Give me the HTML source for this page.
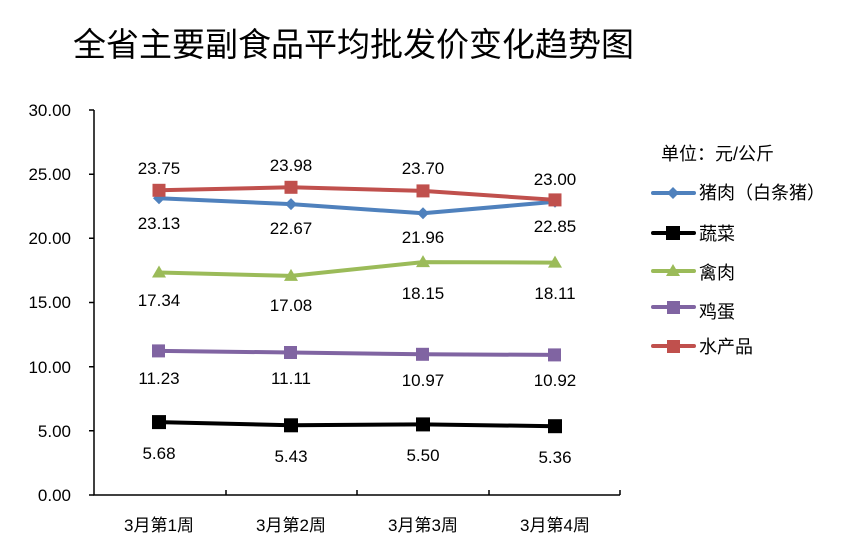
<!DOCTYPE html>
<html><head><meta charset="utf-8"><style>body{margin:0;background:#fff}svg{display:block}</style></head><body>
<svg width="857" height="555" xmlns="http://www.w3.org/2000/svg" font-family="Liberation Sans, Noto Sans CJK SC, sans-serif">
<rect width="857" height="555" fill="#fff"/>
<text x="73" y="56" font-size="33" fill="#000" font-family="Noto Sans CJK SC, sans-serif">全省主要副食品平均批发价变化趋势图</text>
<g stroke="#000" stroke-width="1.5" fill="none">
<path d="M94,110V495H620"/>
<path d="M89,110H94M89,174.2H94M89,238.3H94M89,302.5H94M89,366.7H94M89,430.8H94M89,495H94"/>
<path d="M226,495V490M357,495V490M489,495V490M620,495V490"/>
</g>
<g font-size="17" text-anchor="end" fill="#000">
<text x="71" y="116">30.00</text><text x="71" y="180">25.00</text><text x="71" y="244">20.00</text>
<text x="71" y="308">15.00</text><text x="71" y="373">10.00</text><text x="71" y="437">5.00</text><text x="71" y="501">0.00</text>
</g>
<g font-size="17" text-anchor="middle" fill="#000" font-family="Liberation Sans, Noto Sans CJK SC, sans-serif">
<text x="159" y="531">3月第1周</text><text x="291" y="531">3月第2周</text><text x="423" y="531">3月第3周</text><text x="555" y="531">3月第4周</text>
</g>
<g stroke-width="4" fill="none" stroke-linejoin="round">
<polyline stroke="#4f81bd" points="159,198.2 291,204.1 423,213.3 555,201.8"/>
<polyline stroke="#000" points="159,422.1 291,425.3 423,424.4 555,426.2"/>
<polyline stroke="#9bbb59" points="159,272.5 291,275.9 423,262.1 555,262.6"/>
<polyline stroke="#8064a2" points="159,350.9 291,352.5 423,354.3 555,354.9"/>
<polyline stroke="#c0504d" points="159,190.3 291,187.3 423,190.9 555,199.9"/>
</g>
<g fill="#4f81bd">
<path d="M159,192.2l6,6l-6,6l-6,-6z"/><path d="M291,198.1l6,6l-6,6l-6,-6z"/><path d="M423,207.3l6,6l-6,6l-6,-6z"/><path d="M555,195.8l6,6l-6,6l-6,-6z"/>
</g>
<g fill="#000">
<rect x="152" y="415.1" width="14" height="14"/><rect x="284" y="418.3" width="14" height="14"/><rect x="416" y="417.4" width="14" height="14"/><rect x="548" y="419.2" width="14" height="14"/>
</g>
<g fill="#9bbb59">
<path d="M159,265.5l7,12h-14z"/><path d="M291,268.9l7,12h-14z"/><path d="M423,255.1l7,12h-14z"/><path d="M555,255.6l7,12h-14z"/>
</g>
<g fill="#8064a2">
<rect x="152" y="344.4" width="13" height="13"/><rect x="284" y="346" width="13" height="13"/><rect x="416" y="347.8" width="13" height="13"/><rect x="548" y="348.4" width="13" height="13"/>
</g>
<g fill="#c0504d">
<rect x="152.5" y="183.8" width="13" height="13"/><rect x="284.5" y="180.8" width="13" height="13"/><rect x="416.5" y="184.4" width="13" height="13"/><rect x="548.5" y="193.4" width="13" height="13"/>
</g>
<g font-size="17" text-anchor="middle" fill="#000">
<text x="159" y="174">23.75</text><text x="291" y="171">23.98</text><text x="423" y="174">23.70</text><text x="555" y="185">23.00</text>
<text x="159" y="229">23.13</text><text x="291" y="234">22.67</text><text x="423" y="243">21.96</text><text x="555" y="232">22.85</text>
<text x="159" y="306">17.34</text><text x="291" y="311">17.08</text><text x="423" y="299">18.15</text><text x="555" y="299">18.11</text>
<text x="159" y="384">11.23</text><text x="291" y="384">11.11</text><text x="423" y="386">10.97</text><text x="555" y="386">10.92</text>
<text x="159" y="459">5.68</text><text x="291" y="462">5.43</text><text x="423" y="461">5.50</text><text x="555" y="463">5.36</text>
</g>
<g font-size="18" fill="#000" font-family="Liberation Sans, Noto Sans CJK SC, sans-serif">
<text x="661" y="160">单位：元/公斤</text>
<text x="699" y="199">猪肉（白条猪）</text>
<text x="699" y="240">蔬菜</text>
<text x="699" y="279">禽肉</text>
<text x="699" y="318">鸡蛋</text>
<text x="699" y="353">水产品</text>
</g>
<g stroke-width="4" stroke-linecap="round">
<line x1="653" y1="193" x2="694" y2="193" stroke="#4f81bd"/>
<line x1="653" y1="233" x2="694" y2="233" stroke="#000"/>
<line x1="653" y1="271" x2="694" y2="271" stroke="#9bbb59"/>
<line x1="653" y1="307" x2="694" y2="307" stroke="#8064a2"/>
<line x1="653" y1="346" x2="694" y2="346" stroke="#c0504d"/>
</g>
<path d="M673,187l6,6l-6,6l-6,-6z" fill="#4f81bd"/>
<rect x="666" y="226" width="14" height="14" fill="#000"/>
<path d="M673,264l7,12h-14z" fill="#9bbb59"/>
<rect x="667" y="301" width="13" height="13" fill="#8064a2"/>
<rect x="667" y="340" width="13" height="13" fill="#c0504d"/>
</svg>
</body></html>
